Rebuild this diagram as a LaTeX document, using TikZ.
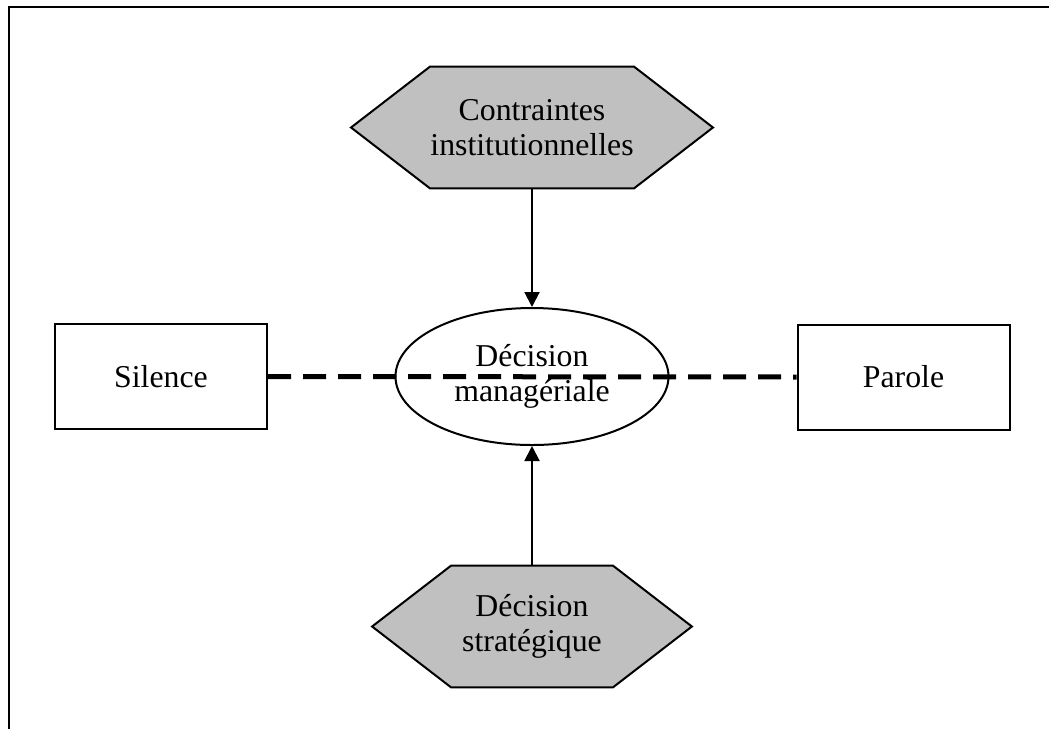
\documentclass[tikz,border=0pt]{standalone}
\usepackage{fontspec}
\setmainfont{Liberation Serif}
\usetikzlibrary{shapes.geometric,arrows.meta,backgrounds}
\definecolor{hexgray}{RGB}{192,192,192}
\begin{document}
\begin{tikzpicture}[x=0.5pt,y=-0.5pt,
  lbl/.style={font=\fontsize{15.9}{17.5}\selectfont, align=center, inner sep=0pt},
  hexlabel/.style={lbl, minimum width=80.5pt, minimum height=60.5pt},
  hexshape/.style={draw=black, fill=hexgray, line width=1pt, line join=miter},
  boxnode/.style={lbl, draw, line width=1pt, minimum width=106pt, minimum height=52.5pt},
  ellnode/.style={lbl, ellipse, draw, line width=1pt, minimum width=136.5pt, minimum height=68.5pt},
  flow/.style={line width=1pt, -{Triangle[length=7.5pt,width=7.5pt]}},
  link/.style={line width=2.5pt, dash pattern=on 11.5pt off 6pt},
  frame/.style={line width=1pt}]
\useasboundingbox (0,0) rectangle (1049,729);
\coordinate (fr1) at (1049,7);
\coordinate (fr2) at (9,7);
\coordinate (fr3) at (9,729);
\draw[frame] (fr1) -- (fr2) -- (fr3);

\node[hexlabel] (ci) at (532,127.5) {Contraintes\\institutionnelles};
\node[hexlabel] (ds) at (532,626.5) {D\'ecision\\strat\'egique};
\begin{scope}[on background layer]
\draw[hexshape] (ci.north west) -- (ci.north east) -- ([xshift=39.5pt]ci.east) -- (ci.south east) -- (ci.south west) -- ([xshift=-39.5pt]ci.west) -- cycle;
\draw[hexshape] (ds.north west) -- (ds.north east) -- ([xshift=39.5pt]ds.east) -- (ds.south east) -- (ds.south west) -- ([xshift=-39.5pt]ds.west) -- cycle;
\end{scope}

\node[ellnode] (dm) at (532,376.5) {D\'ecision\\manag\'eriale};
\node[boxnode] (si) at (161,376.5) {Silence};
\node[boxnode] (pa) at (903.5,377) {Parole};

\draw[flow] (ci.south) -- (dm.north);
\draw[flow] (ds.north) -- (dm.south);
\draw[link] (si.east) -- (pa.west);
\end{tikzpicture}
\end{document}
